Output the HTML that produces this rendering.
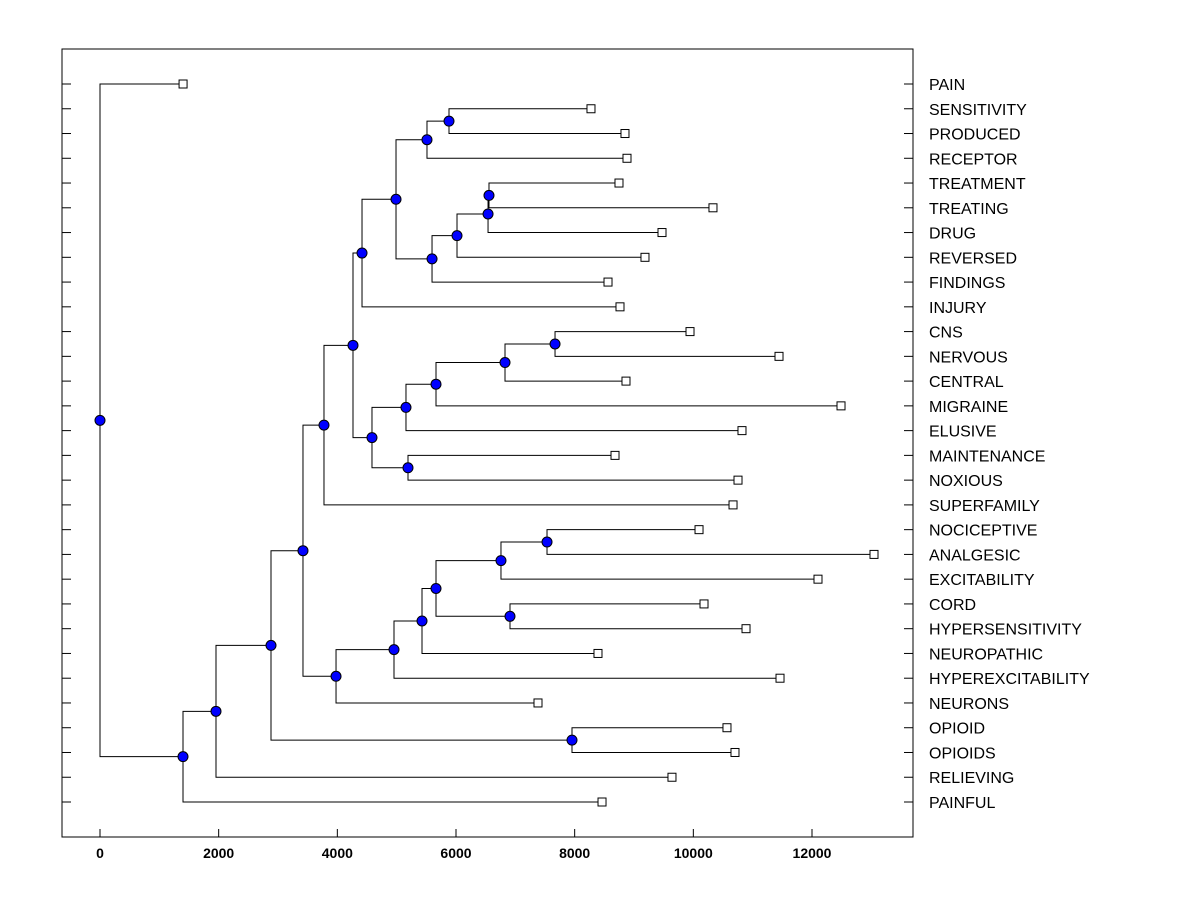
<!DOCTYPE html>
<html><head><meta charset="utf-8"><style>
html,body{margin:0;padding:0;background:#fff;}
svg{display:block;font-family:"Liberation Sans",Arial,sans-serif;}
</style></head><body>
<svg id="chart" width="1200" height="900" xmlns="http://www.w3.org/2000/svg">
<rect x="62" y="49" width="851" height="788" fill="none" stroke="#000" stroke-width="1"/>
<g id="ticks"></g>
<g id="links"></g>
<g id="marks"></g>
<g id="labels"></g>
<g id="xlabels"></g>
</svg>
<script>
const leafNames = ["PAIN","SENSITIVITY","PRODUCED","RECEPTOR","TREATMENT","TREATING","DRUG","REVERSED","FINDINGS","INJURY","CNS","NERVOUS","CENTRAL","MIGRAINE","ELUSIVE","MAINTENANCE","NOXIOUS","SUPERFAMILY","NOCICEPTIVE","ANALGESIC","EXCITABILITY","CORD","HYPERSENSITIVITY","NEUROPATHIC","HYPEREXCITABILITY","NEURONS","OPIOID","OPIOIDS","RELIEVING","PAINFUL"];
const leafValues = [1400,8275,8848,8882,8747,10331,9472,9185,8562,8764,9944,11444,8865,12489,10820,8680,10753,10669,10096,13045,12101,10180,10888,8393,11461,7382,10567,10702,9640,8461];
// internal nodes: ids start at 30
const mergeLeft  = [1,30,4,32,33,34,31,36,10,38,39,40,15,41,37,44,18,46,21,47,49,50,51,45,26,53,55,56,0];
const mergeRight = [2,3,5,6,7,8,35,9,11,12,13,14,16,42,43,17,19,20,22,48,23,24,25,52,27,54,28,29,57];
const mergeHeight = [5882,5511,6556,6540,6017,5596,4989,4416,7669,6826,5663,5157,5191,4584,4264,3775,7534,6758,6910,5663,5427,4955,3978,3421,7955,2882,1955,1399,0];
const xTicks = [0,2000,4000,6000,8000,10000,12000];

const NS="http://www.w3.org/2000/svg";
const xs = v => 100 + (v) * (712/12000);
const ys = i => 84 + i * (718/29);
function mk(tag, attrs, parent){const e=document.createElementNS(NS,tag);for(const k in attrs)e.setAttribute(k,attrs[k]);parent.appendChild(e);return e;}
const gT=document.getElementById('ticks'),gL=document.getElementById('links'),gM=document.getElementById('marks'),gLab=document.getElementById('labels'),gX=document.getElementById('xlabels');

const N=leafNames.length;
const nodeX=[],nodeY=[];
for(let i=0;i<N;i++){nodeX[i]=xs(leafValues[i]);nodeY[i]=ys(i);}
for(let k=0;k<mergeLeft.length;k++){
  const id=N+k,a=mergeLeft[k],b=mergeRight[k],x=xs(mergeHeight[k]);
  nodeX[id]=x;nodeY[id]=(nodeY[a]+nodeY[b])/2;
  const p=mk('path',{d:`M${nodeX[a]},${nodeY[a]}H${x}V${nodeY[b]}H${nodeX[b]}`,fill:'none',stroke:'#000','stroke-width':1},gL);
  
  
}
for(let k=0;k<mergeLeft.length;k++){
  const id=N+k;
  const c=mk('circle',{cx:nodeX[id],cy:nodeY[id],r:5,fill:'#0000ff',stroke:'#000','stroke-width':1},gM);
  
  
}
for(let i=0;i<N;i++){
  const r=mk('rect',{x:nodeX[i]-4,y:nodeY[i]-4,width:8,height:8,fill:'#fff',stroke:'#000','stroke-width':1},gM);
  
  
  const t=mk('text',{x:929,y:nodeY[i]+6,'font-size':16,fill:'#000'},gLab);
  t.textContent=leafNames[i];
  
  
  const l1=mk('line',{x1:62,x2:71,y1:nodeY[i],y2:nodeY[i],stroke:'#000'},gT);
  
  
  const l2=mk('line',{x1:904,x2:913,y1:nodeY[i],y2:nodeY[i],stroke:'#000'},gT);
  
  
}
xTicks.forEach(v=>{
  const tk=mk('line',{x1:xs(v),x2:xs(v),y1:829,y2:837,stroke:'#000'},gT);
  
  
  const t=mk('text',{x:xs(v),y:858,'font-size':14,'font-weight':'bold','text-anchor':'middle',fill:'#000'},gX);
  t.textContent=v;
  
  
});
</script>
</body></html>
